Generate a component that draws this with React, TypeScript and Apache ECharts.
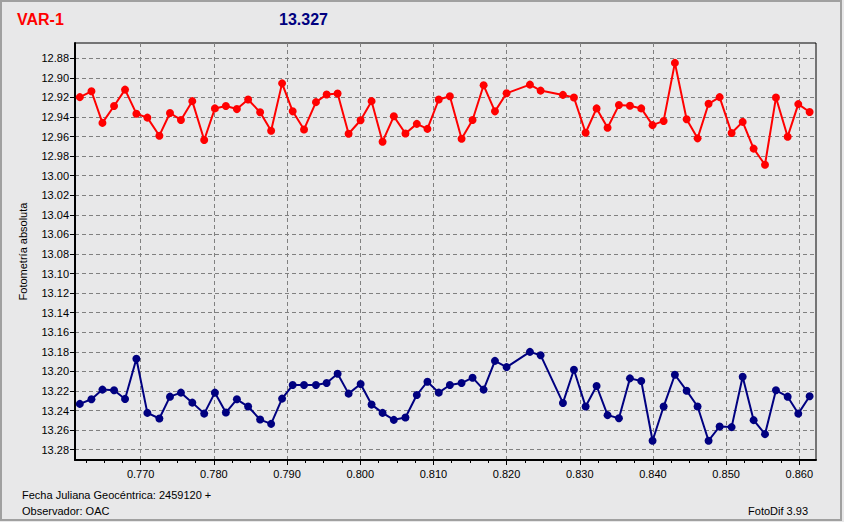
import React, { useEffect, useRef } from "react";
import * as echarts from "echarts";

// Geocentric Julian date (fraction, + 2459120)
const jd = [
  0.76168, 0.76327, 0.76477, 0.76636, 0.76786, 0.76941, 0.77091, 0.77255,
  0.774, 0.7755, 0.77705, 0.77868, 0.78014, 0.78164, 0.78314, 0.78468,
  0.78632, 0.78782, 0.78932, 0.79077, 0.79232, 0.79395, 0.79541, 0.79691,
  0.79841, 0.80005, 0.80155, 0.80305, 0.80459, 0.80618, 0.80773, 0.80918,
  0.81073, 0.81225, 0.81385, 0.81535, 0.81686, 0.81841, 0.82, 0.82319,
  0.82465, 0.8277, 0.8292, 0.8308, 0.8323, 0.8338, 0.83535, 0.83686,
  0.8384, 0.83995, 0.84146, 0.843, 0.8446, 0.8461, 0.8476, 0.84911,
  0.85075, 0.85226, 0.85376, 0.85531, 0.85681, 0.85841, 0.85986, 0.86141,
];

// VAR-1 magnitudes (red)
const varMag = [
  12.9197, 12.9137, 12.946, 12.9288, 12.912, 12.9366, 12.9406, 12.9591,
  12.9359, 12.943, 12.9238, 12.9635, 12.9312, 12.9288, 12.9319, 12.9221,
  12.9352, 12.9541, 12.9056, 12.9342, 12.9527, 12.9248, 12.917, 12.916,
  12.9571, 12.9433, 12.9238, 12.9652, 12.9393, 12.9568, 12.947, 12.9521,
  12.9221, 12.9187, 12.9622, 12.943, 12.9076, 12.9342, 12.9157, 12.9069,
  12.913, 12.9174, 12.9201, 12.9561, 12.9312, 12.951, 12.9278, 12.9285,
  12.9312, 12.9483, 12.944, 12.8847, 12.9423, 12.9618, 12.9265, 12.9197,
  12.9564, 12.945, 12.9723, 12.9888, 12.9201, 12.9601, 12.9268, 12.9349,
];

// Comparison star magnitudes (navy)
const compMag = [
  13.2332, 13.2285, 13.2186, 13.2193, 13.2281, 13.1871, 13.2424, 13.2481,
  13.2258, 13.2217, 13.2319, 13.2431, 13.2217, 13.242, 13.2285, 13.2359,
  13.2492, 13.2536, 13.2278, 13.2139, 13.2139, 13.2139, 13.2119, 13.2024,
  13.2227, 13.2129, 13.2339, 13.2424, 13.2495, 13.2471, 13.2241, 13.2105,
  13.2217, 13.2139, 13.2119, 13.2064, 13.2186, 13.1892, 13.1956, 13.18,
  13.1834, 13.2322, 13.1983, 13.2359, 13.2149, 13.2447, 13.2478, 13.2071,
  13.2098, 13.2708, 13.2359, 13.2034, 13.2197, 13.2359, 13.2708, 13.2563,
  13.2569, 13.2054, 13.2498, 13.2641, 13.2193, 13.2258, 13.2431, 13.2254,
];

const yTicks = [
  12.88, 12.9, 12.92, 12.94, 12.96, 12.98, 13.0, 13.02, 13.04, 13.06, 13.08,
  13.1, 13.12, 13.14, 13.16, 13.18, 13.2, 13.22, 13.24, 13.26, 13.28,
];
const xTicks = [0.77, 0.78, 0.79, 0.8, 0.81, 0.82, 0.83, 0.84, 0.85, 0.86];
const xMinorTicks: number[] = [];
for (let i = 0; i <= 39; i++) xMinorTicks.push(Math.round((0.7625 + i * 0.0025) * 10000) / 10000);

const titleName = "VAR-1";
const titleValue = "13.327";
const yName = "Fotometría absoluta";
const footLeft1 = "Fecha Juliana Geocéntrica: 2459120 +";
const footLeft2 = "Observador: OAC";
const footRight = "FotoDif 3.93";

const X_MIN = 0.761022;
const X_MAX = 0.862282;
const Y_MIN = 12.86436;
const Y_MAX = 13.29053;

const FONT = "'Liberation Sans', Arial, sans-serif";
const GRID_COLOR = "#808080";

export default function App() {
  const ref = useRef<HTMLDivElement>(null);

  useEffect(() => {
    document.body.style.margin = "0";
    if (!ref.current) return;
    const chart = echarts.init(ref.current, undefined, { renderer: "svg" });
    const dashed = { color: GRID_COLOR, width: 1, type: [4, 3] as any };
    chart.setOption({
      animation: false,
      backgroundColor: "#E8E8E9",
      grid: {
        left: 75,
        right: 28,
        top: 43,
        bottom: 62,
        show: true,
        borderColor: "#000",
        borderWidth: 1,
        backgroundColor: "transparent",
      },
      xAxis: [
        {
          type: "value",
          min: X_MIN,
          max: X_MAX,
          position: "bottom",
          splitNumber: 10,
          minInterval: 0.01,
          maxInterval: 0.01,
          axisLine: { show: true, onZero: false, lineStyle: { color: "#000", width: 2 } },
          axisTick: { show: true, length: 5, customValues: xTicks, lineStyle: { color: "#000" } },
          axisLabel: {
            customValues: xTicks,
            formatter: (v: number) => v.toFixed(3),
            margin: 8,
            color: "#000",
            fontSize: 11,
            fontFamily: FONT,
          },
          splitLine: { show: true, lineStyle: dashed },
        },
        {
          type: "value",
          min: X_MIN,
          max: X_MAX,
          position: "bottom",
          splitNumber: 40,
          minInterval: 0.0025,
          maxInterval: 0.0025,
          axisLine: { show: false, onZero: false },
          axisTick: { show: true, length: 3, customValues: xMinorTicks, lineStyle: { color: "#000" } },
          axisLabel: { show: false },
          splitLine: { show: false },
        },
      ],
      yAxis: {
        type: "value",
        inverse: true,
        min: Y_MIN,
        max: Y_MAX,
        splitNumber: 21,
        minInterval: 0.02,
        maxInterval: 0.02,
        name: yName,
        nameLocation: "middle",
        nameGap: 47,
        nameTextStyle: { color: "#000", fontSize: 11, fontFamily: FONT },
        axisLine: { show: true, onZero: false, lineStyle: { color: "#000", width: 2 } },
        axisTick: { show: true, length: 5, customValues: yTicks, lineStyle: { color: "#000" } },
        axisLabel: {
          customValues: yTicks,
          formatter: (v: number) => v.toFixed(2),
          margin: 6,
          color: "#000",
          fontSize: 11,
          fontFamily: FONT,
        },
        splitLine: { show: true, lineStyle: dashed },
      },
      series: [
        {
          type: "line",
          name: titleName,
          xAxisIndex: 0,
          data: jd.map((x, i) => [x, varMag[i]]),
          symbol: "circle",
          symbolSize: 8,
          lineStyle: { color: "#FF0000", width: 2 },
          itemStyle: { color: "#FF0000" },
        },
        {
          type: "line",
          name: "comp",
          xAxisIndex: 0,
          data: jd.map((x, i) => [x, compMag[i]]),
          symbol: "circle",
          symbolSize: 8,
          lineStyle: { color: "#000080", width: 2 },
          itemStyle: { color: "#000080" },
        },
      ],
      graphic: [
        {
          type: "rect",
          shape: { x: 1, y: 1, width: 840, height: 519 },
          style: { fill: "none", stroke: "#A0A0A0", lineWidth: 2 },
          silent: true,
        },
        {
          type: "text",
          left: 17,
          top: 11,
          style: { text: titleName, fill: "#FF0000", font: `bold 16px ${FONT}` },
        },
        {
          type: "text",
          left: 279,
          top: 11,
          style: { text: titleValue, fill: "#000080", font: `bold 16px ${FONT}` },
        },
        {
          type: "text",
          left: 22,
          top: 489,
          style: { text: footLeft1, fill: "#000", font: `11px ${FONT}` },
        },
        {
          type: "text",
          left: 22,
          top: 505,
          style: { text: footLeft2, fill: "#000", font: `11px ${FONT}` },
        },
        {
          type: "text",
          right: 36,
          top: 505,
          style: { text: footRight, fill: "#000", font: `11px ${FONT}` },
        },
      ],
    });
    return () => chart.dispose();
  }, []);

  return <div ref={ref} style={{ width: 844, height: 522 }} />;
}
